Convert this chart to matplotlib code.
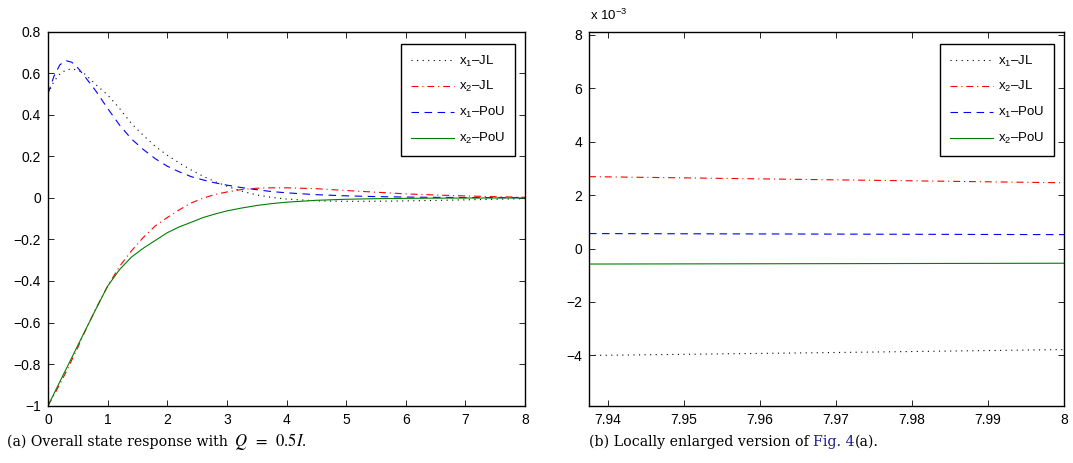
import matplotlib
matplotlib.use("Agg")
import matplotlib.pyplot as plt
from matplotlib.ticker import FuncFormatter, FixedLocator

plt.rcParams["font.family"] = ["Liberation Sans", "DejaVu Sans"]
plt.rcParams["mathtext.fontset"] = "stix"
plt.rcParams["mathtext.default"] = "regular"
plt.rcParams["lines.scale_dashes"] = False

# time grid
t = [0.0, 0.1, 0.2, 0.3, 0.4, 0.5, 0.6, 0.8, 1.0, 1.2, 1.4, 1.6, 1.8, 2.0,
     2.2, 2.4, 2.6, 2.8, 3.0, 3.25, 3.5, 3.75, 4.0, 4.5, 5.0, 5.5, 6.0,
     6.5, 7.0, 7.5, 8.0]

x1_jl = [0.50, 0.56, 0.596, 0.615, 0.62, 0.614, 0.60, 0.545, 0.495, 0.43,
         0.357, 0.30, 0.247, 0.205, 0.168, 0.134, 0.104, 0.078, 0.056,
         0.032, 0.014, 0.002, -0.006, -0.0145, -0.017, -0.0165, -0.0148,
         -0.0125, -0.0098, -0.0070, -0.0038]
x2_jl = [-1.0, -0.95, -0.895, -0.84, -0.78, -0.72, -0.655, -0.535, -0.425,
         -0.33, -0.255, -0.19, -0.135, -0.095, -0.058, -0.025, -0.002,
         0.016, 0.028, 0.040, 0.046, 0.048, 0.048, 0.044, 0.035, 0.027,
         0.019, 0.0135, 0.009, 0.0055, 0.0025]
x1_pou = [0.50, 0.585, 0.64, 0.66, 0.652, 0.625, 0.59, 0.515, 0.43, 0.35,
          0.283, 0.232, 0.188, 0.152, 0.125, 0.102, 0.086, 0.072, 0.061,
          0.049, 0.039, 0.030, 0.024, 0.015, 0.0095, 0.0058, 0.0036,
          0.0022, 0.0013, 0.0008, 0.00052]
x2_pou = [-1.0, -0.942, -0.884, -0.826, -0.768, -0.71, -0.652, -0.537,
          -0.425, -0.345, -0.285, -0.242, -0.205, -0.168, -0.140, -0.118,
          -0.095, -0.078, -0.063, -0.049, -0.037, -0.028, -0.021, -0.012,
          -0.007, -0.0042, -0.0026, -0.0016, -0.0011, -0.0008, -0.00055]

# panel (b): last stretch of the run, values in units of 1e-3
t_zoom = [7.9375, 7.97, 8.0]
x1_jl_zoom = [-4.0, -3.89, -3.78]
x2_jl_zoom = [2.69, 2.57, 2.46]
x1_pou_zoom = [0.56, 0.54, 0.52]
x2_pou_zoom = [-0.58, -0.565, -0.55]

labels = ["x$_1$\u2013JL", "x$_2$\u2013JL", "x$_1$\u2013PoU", "x$_2$\u2013PoU"]
styles = [
    dict(color="black", ls=(0, (0.8, 3.2))),
    dict(color="red", ls=(0, (5.0, 2.8, 0.8, 2.8))),
    dict(color="blue", ls=(0, (5.4, 4.0))),
    dict(color="#008000", ls="-"),
]

W, H = 1073, 463
fig = plt.figure(figsize=(W / 100, H / 100), dpi=100)
bottom = 1 - 405.7 / H
height = (405.7 - 31.5) / H
ax1 = fig.add_axes([48 / W, bottom, 477 / W, height])
ax2 = fig.add_axes([589 / W, bottom, 475 / W, height])


def fmt(v, pos):
    return ("%g" % v).replace("-", "\u2212")


def style_axes(ax):
    ax.tick_params(direction="in", top=True, right=True, length=4,
                   width=0.6, labelsize=10, pad=5)
    for s in ax.spines.values():
        s.set_linewidth(1.0)
    ax.xaxis.set_major_formatter(FuncFormatter(fmt))
    ax.yaxis.set_major_formatter(FuncFormatter(fmt))


def add_legend(ax):
    leg = ax.legend(loc="upper right", bbox_to_anchor=(1 - 10 / 477, 1 - 12 / 374),
                    borderaxespad=0, fontsize=9.5, fancybox=False,
                    edgecolor="black", framealpha=1, handlelength=3.3,
                    handletextpad=0.35, labelspacing=0.82, borderpad=0.75)
    leg.get_frame().set_linewidth(1.0)


series = [x1_jl, x2_jl, x1_pou, x2_pou]
for ys, lab, st in zip(series, labels, styles):
    ax1.plot(t, ys, lw=0.8, label=lab, **st)
ax1.set_xlim(0, 8)
ax1.set_ylim(-1, 0.8)
ax1.xaxis.set_major_locator(FixedLocator(range(0, 9)))
ax1.yaxis.set_major_locator(FixedLocator([-1, -0.8, -0.6, -0.4, -0.2, 0, 0.2, 0.4, 0.6, 0.8]))
style_axes(ax1)
add_legend(ax1)

zoom_series = [x1_jl_zoom, x2_jl_zoom, x1_pou_zoom, x2_pou_zoom]
for ys, lab, st in zip(zoom_series, labels, styles):
    ax2.plot(t_zoom, ys, lw=0.8, label=lab, **st)
ax2.set_xlim(7.9375, 8.0)
ax2.set_ylim(-5.88, 8.12)
ax2.xaxis.set_major_locator(FixedLocator([7.94, 7.95, 7.96, 7.97, 7.98, 7.99, 8.0]))
ax2.yaxis.set_major_locator(FixedLocator([-4, -2, 0, 2, 4, 6, 8]))
style_axes(ax2)
add_legend(ax2)
ax2.text(0.003, 1.03, "x 10$^{-3}$", transform=ax2.transAxes, fontsize=9.5,
         va="baseline", ha="left")

# captions (pieces chained on a common baseline)
base_y = 1 - 446 / H
cap_font = dict(family="DejaVu Serif", fontsize=10.2)


def next_piece(prev, text, gap=0.0, **kw):
    opts = dict(cap_font)
    opts.update(kw)
    return fig.axes[0].annotate(text, xy=(1, base_y), xycoords=(prev, "figure fraction"),
                                xytext=(gap, 0), textcoords="offset points",
                                va="baseline", ha="left", annotation_clip=False, **opts)


a1 = fig.text(7 / W, base_y, "(a) Overall state response with", va="baseline", **cap_font)
next_piece(a1, r"$\mathit{Q}\;\;=\;\;0.5\mathit{I}.$", gap=4.5,
           family="STIXGeneral", fontsize=12)

b1 = fig.text(589 / W, base_y, "(b) Locally enlarged version of", va="baseline", **cap_font)
b2 = next_piece(b1, "Fig. 4", gap=3.3, color="#1a1a80")
next_piece(b2, "(a).")

fig.savefig("out.png", dpi=100)
